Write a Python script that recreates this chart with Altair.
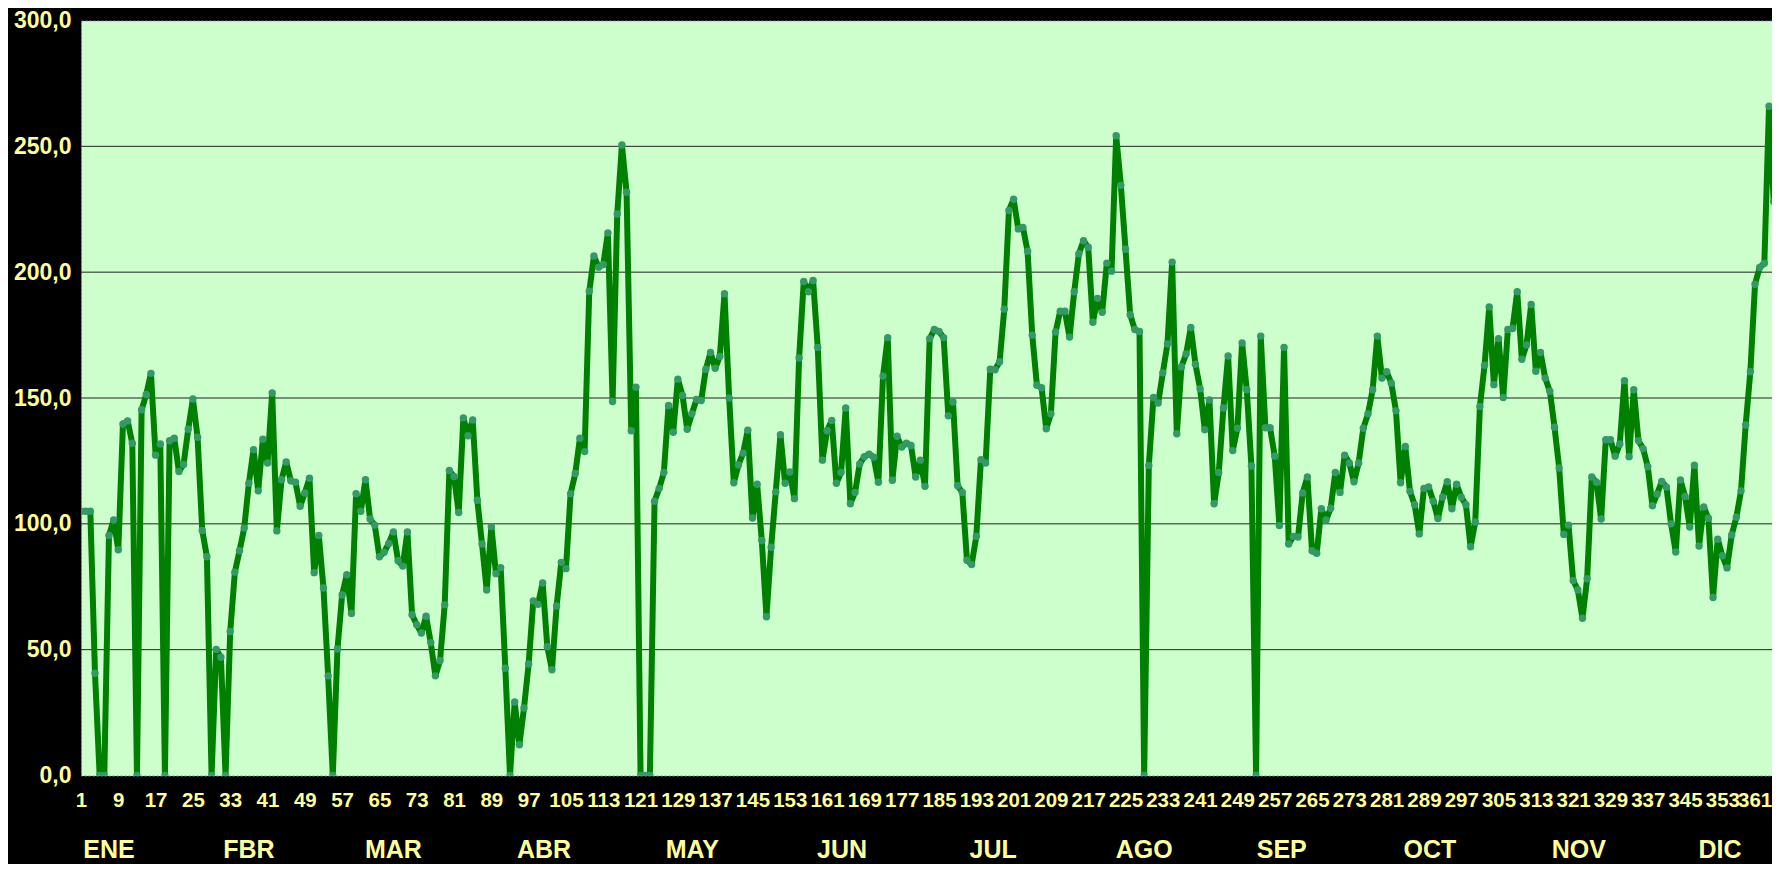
import altair as alt
import pandas as pd

# ---- data ----
ene = [105, 105, 105, 40.6, 0, 0, 95.4, 101.5, 89.7, 139.7, 140.9, 132, 0, 145.3, 151.4, 159.8,
       127.3, 131.7, 0, 133, 134, 120.8, 123.6, 137.6, 149.6, 134.4, 97.4, 86.9, 0, 50.1, 47]
fbr = [0, 57.2, 80.8, 89.3, 98.3, 116.1, 129.5, 113.1, 133.6, 124.2, 152, 97.2, 117.5, 124.6,
       117.1, 116.5, 107, 112.3, 118.1, 80.6, 95.4, 74.5, 39.6, 0, 50.3, 71.7, 79.8, 64.4]
mar = [112, 105, 117.5, 101.9, 99.5, 86.9, 88.7, 92.2, 96.8, 85.3, 83.2, 96.8, 63.9, 59.9, 56.6,
       63.3, 52.8, 39.6, 45.7, 67.8, 121.2, 118.8, 104.5, 142.1, 135, 141.3, 109.4, 92, 73.7, 98.9, 80.2]
abr = [82.6, 42.6, 0, 29.2, 12.2, 26.8, 44.3, 69.4, 68, 76.5, 51.2, 42, 67.4, 84.7, 82.2, 112,
       120, 134, 128.7, 192.4, 206.4, 202, 203, 215.6, 148.6, 223.1, 250.5, 231.8, 137, 154.3]
may = [0, 0, 0, 109, 114.1, 120.4, 147, 136.4, 157.5, 151, 137.6, 143.7, 149.4, 149, 161.4, 168.1,
       161.8, 166.5, 191.4, 150, 116.3, 123.4, 128.1, 137.2, 102.3, 115.7, 93.4, 63.1, 90.7, 112.7, 135.4]
jun = [116.1, 120.6, 110, 165.9, 196.3, 192.2, 196.7, 170.1, 125.3, 137, 141.1, 116.1, 120.4, 146,
       108, 112.5, 123.8, 126.7, 127.7, 126.5, 116.5, 158.7, 174, 117.3, 134.8, 130.5, 132, 131.1,
       118.6, 125.3]
jul = [114.9, 173.6, 177.2, 176.4, 174, 142.9, 148.4, 115.1, 112.5, 85.5, 83.8, 95, 125.5, 124.2,
       161.4, 161.2, 164.4, 185.3, 224.5, 229, 217.2, 217.8, 208.3, 175, 155.1, 154.1, 137.8, 143.7,
       176.2, 184.5, 184.5]
ago = [174.2, 192.2, 207.3, 212.5, 209.9, 180.1, 189.6, 184.1, 203.6, 200.4, 254.2, 234.5, 209.1,
       183.1, 177.2, 176.4, 0, 123.2, 150.2, 148, 160, 171.5, 204, 135.8, 162.4, 167.5, 178, 163.4,
       153.7, 137.4, 149.2]
sep = [108, 120.4, 146, 166.7, 129.1, 138, 171.9, 153.3, 123, 0, 174.6, 138.2, 138.2, 126.9, 99.3,
       170.1, 92, 95, 94.8, 112.3, 118.6, 89.3, 88.3, 106, 101.5, 106.2, 120.4, 112.5, 127.3, 124.2]
oct_ = [116.7, 124.2, 138, 143.7, 153.3, 174.6, 157.9, 160.4, 155.9, 144.9, 116.3, 130.7, 112.9,
        107.6, 96, 114.1, 114.7, 109, 102.1, 110.6, 116.7, 106, 115.7, 110.6, 107.6, 90.9, 100.7,
        146.6, 163, 186.2, 155.3]
nov = [173.6, 150.2, 177.2, 177.6, 192.2, 165.4, 171.1, 187.2, 160.6, 168.1, 157.9, 152.7, 138.4,
       122.2, 95.8, 99.5, 77.5, 73.7, 62.5, 78.2, 118.6, 116.5, 101.9, 133.4, 133.4, 126.9, 131.7,
       156.9, 126.7, 153.3]
dic = [133, 129.9, 122.7, 107.2, 111.8, 116.8, 114.6, 100, 88.8, 117.4, 110.9, 98.7, 123.3, 91.2,
       106.7, 102.2, 70.7, 93.9, 87.3, 82.5, 95.6, 102.6, 113.1, 139.3, 160.4, 195.2, 201.9, 203.5,
       265.9, 228.1, 248.4]

meses = ["ENE", "FBR", "MAR", "ABR", "MAY", "JUN", "JUL", "AGO", "SEP", "OCT", "NOV", "DIC"]
mes_dia = [7, 37, 68, 100.3, 132.1, 164.2, 196.6, 229, 258.5, 290.3, 322.2, 352.5]

y_ticks = [0, 50, 100, 150, 200, 250, 300]
y_grid = [50, 100, 150, 200, 250]
x_ticks = list(range(1, 366, 8))

valores = ene + fbr + mar + abr + may + jun + jul + ago + sep + oct_ + nov + dic
dias = list(range(1, len(valores) + 1))
df = pd.DataFrame({"dia": dias, "valor": valores})

# ---- layout ----
W = 1691
H = 755
DAY_PX = 4.663
XMAX = 1 + W / DAY_PX
FONT = "Liberation Sans"
YEL = "#FFFF99"

x_scale = alt.Scale(domain=[1, XMAX], nice=False, zero=False)
y_scale = alt.Scale(domain=[0, 300], nice=False, zero=True)

x_axis = alt.Axis(values=x_ticks, labelFont=FONT, labelFontSize=20.5,
                  labelFontWeight="bold", labelColor=YEL, labelPadding=15,
                  labelOffset={"condition": {"test": "datum.value >= 361", "value": -5},
                               "value": 0},
                  labelOverlap=False, labelFlush=False, labelBound=False,
                  ticks=False, domain=False, grid=False, title=None)
y_axis = alt.Axis(values=y_ticks,
                  labelExpr="replace(format(datum.value, '.1f'), '.', ',')",
                  labelFont=FONT, labelFontSize=23, labelFontWeight="bold",
                  labelColor=YEL, labelPadding=10, ticks=False,
                  domain=False, grid=False, title=None)

grid = alt.Chart(pd.DataFrame({"g": y_grid})).mark_rule(
    color="#222222", strokeWidth=1
).encode(y=alt.Y("g:Q", scale=y_scale, axis=y_axis))

line = alt.Chart(df).mark_line(
    color="#008000", strokeWidth=6, clip=True, strokeJoin="round"
).encode(
    x=alt.X("dia:Q", scale=x_scale, axis=x_axis),
    y=alt.Y("valor:Q", scale=y_scale, axis=y_axis),
)

points = alt.Chart(df).mark_circle(
    color="#339966", size=55, opacity=1, clip=True
).encode(
    x=alt.X("dia:Q", scale=x_scale, axis=x_axis),
    y=alt.Y("valor:Q", scale=y_scale, axis=y_axis),
)

month_text = alt.Chart(pd.DataFrame({"mes": meses, "pos": mes_dia})).mark_text(
    font=FONT, fontSize=25, fontWeight="bold", color=YEL, baseline="alphabetic", align="center"
).encode(
    x=alt.X("pos:Q", scale=x_scale, axis=x_axis),
    y=alt.value(H + 82),
    text="mes:N",
)

chart = alt.layer(grid, line, points, month_text).properties(
    width=W,
    height=H,
    padding={"left": 73, "top": 12.5, "right": 0, "bottom": 88.5},
    autosize=alt.AutoSizeParams(type="none"),
    background="#000000",
).configure_view(
    fill="#CCFFCC", stroke="#7f8fbf", strokeDash=[2, 2], strokeWidth=1
)

chart.save("out.html", embed_options={"renderer": "svg", "actions": False})
